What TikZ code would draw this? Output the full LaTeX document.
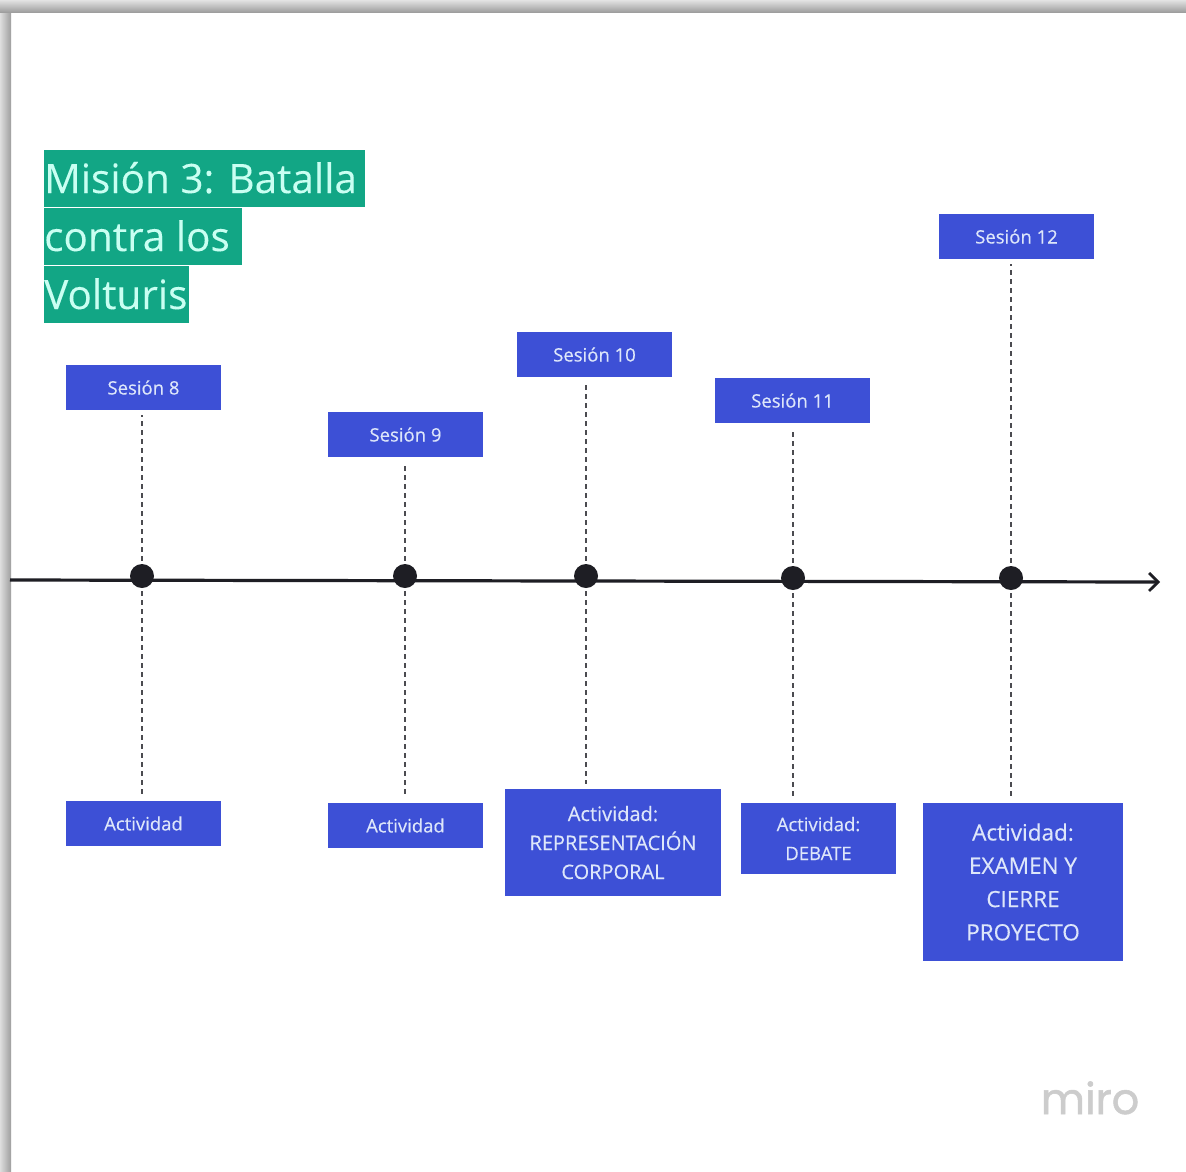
\documentclass[tikz,border=0pt]{standalone}
\usepackage{fontspec}
\setmainfont{Open Sans}[FakeBold=0.35]
\newfontfamily\titlef{Open Sans}[FakeBold=0.15]
\newfontfamily\mirof{Poppins}[FakeBold=1.2]
\usetikzlibrary{arrows.meta,positioning,calc}
\definecolor{teal1}{HTML}{12A685}
\definecolor{blue1}{HTML}{3D50D6}
\definecolor{txtb}{HTML}{DDE6FA}
\definecolor{txtt}{HTML}{C9FFF2}
\definecolor{ink}{HTML}{1E1E24}
\tikzset{
  x=1pt,y=-1pt,
  boxb/.style={fill=blue1,text=txtb,inner sep=0pt,align=center,anchor=center,font=\fontsize{18.5}{29}\selectfont},
  titletext/.style={text=txtt,inner sep=0pt,anchor=base west,font=\titlef\fontsize{40.5}{41}\selectfont},
  dotn/.style={circle,fill=ink,minimum size=24pt,inner sep=0pt},
  conn/.style={draw=ink!80,line width=1.2pt,dash pattern=on 5pt off 4pt,shorten <=3pt,shorten >=5pt},
  axisl/.style={draw=ink,line width=3.2pt,-{Straight Barb[length=9pt,width=18pt,line width=2.8pt]}}
}
\newcommand{\bluebox}[6]{\node[boxb,minimum width=#3 pt,minimum height=#4 pt,#6] (#1) at (#2) {#5};}
\begin{document}
\begin{tikzpicture}
\useasboundingbox (0,0) rectangle (1186,1171);
\fill[white] (0,0) rectangle (1186,1171);
% window shadow
\shade[left color=black!13,right color=black!38] (0,0) rectangle (11,1171);
\shade[top color=black!11,bottom color=black!38] (0,0) rectangle (1186,12);
% title
\fill[teal1] (44,150) rectangle (365,207);
\fill[teal1] (44,208) rectangle (242,265);
\fill[teal1] (44,266) rectangle (189,323);
\node[titletext] (t1) at (44,193) {Misión 3: Batalla};
\node[titletext] (t2) at (44,251) {contra los};
\node[titletext] (t3) at (44,309) {Volturis};
% session boxes
\bluebox{s8}{143.5,387.5}{155}{45}{Sesión 8}{}
\bluebox{s9}{405.5,434.5}{155}{45}{Sesión 9}{}
\bluebox{s10}{594.5,354.5}{155}{45}{Sesión 10}{}
\bluebox{s11}{792.5,400.5}{155}{45}{Sesión 11}{}
\bluebox{s12}{1016.5,236.5}{155}{45}{Sesión 12}{}
% activity boxes
\bluebox{a8}{143.5,823.5}{155}{45}{Actividad}{}
\bluebox{a9}{405.5,825.5}{155}{45}{Actividad}{}
\bluebox{a10}{613,842.5}{216}{107}{Actividad:\\REPRESENTACIÓN\\CORPORAL}{font=\fontsize{20}{29}\selectfont}
\bluebox{a11}{818.5,838.5}{155}{71}{Actividad:\\DEBATE}{}
\bluebox{a12}{1023,882}{200}{158}{Actividad:\\EXAMEN Y\\CIERRE\\PROYECTO}{font=\fontsize{22.5}{33.3}\selectfont}
% axis and dots
\coordinate (axs) at (10,580);
\coordinate (axe) at (1160,582);
\draw[axisl] (axs) -- (axe);
\node[dotn] (d8) at (142,576) {};
\node[dotn] (d9) at (405,576) {};
\node[dotn] (d10) at (586,576) {};
\node[dotn] (d11) at (793,578) {};
\node[dotn] (d12) at (1011,578) {};
% connectors
\foreach \n in {8,9,10,11,12}{
  \draw[conn] (d\n) -- (d\n |- s\n.south);
  \draw[conn] (d\n) -- (d\n |- a\n.north);
}
\node[text=black!20,inner sep=0pt,anchor=base,font=\mirof\fontsize{43}{43}\selectfont] (m) at (1090,1114) {miro};
\end{tikzpicture}
\end{document}
